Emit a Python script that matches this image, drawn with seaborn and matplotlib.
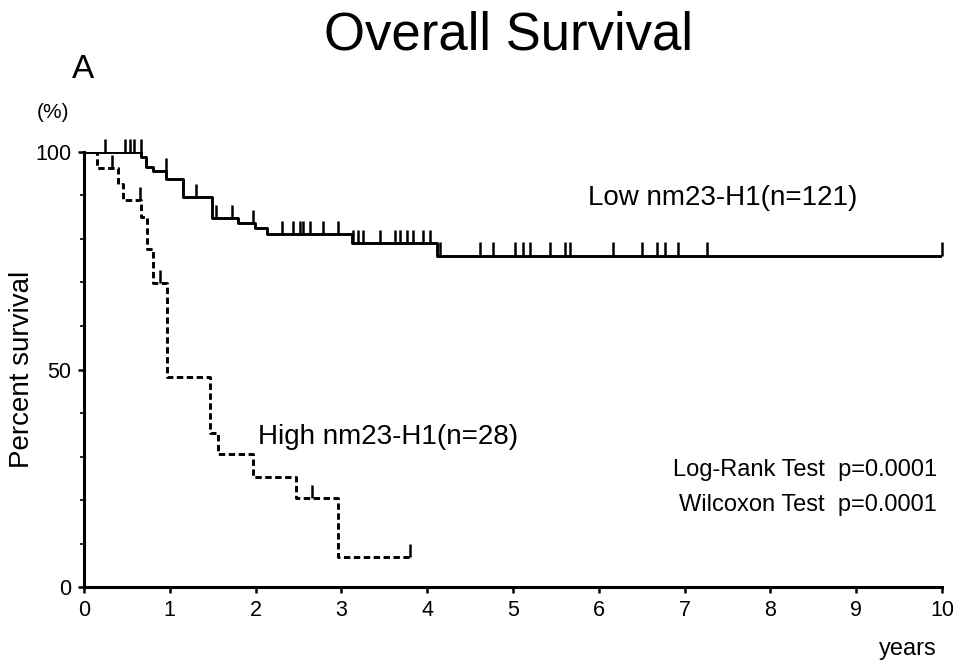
import numpy as np
import pandas as pd
import seaborn as sns
import matplotlib.pyplot as plt
from matplotlib.ticker import MultipleLocator

# Kaplan-Meier steps (years, % surviving)
low_times = [0, 0.67, 0.72, 0.81, 0.96, 1.15, 1.49, 1.80, 1.99, 2.13, 3.12, 4.11]
low_surv = [100, 98.9, 96.5, 95.6, 93.8, 89.7, 84.8, 83.7, 82.5, 81.1, 79.1, 76.2]
low_end = 10.0
low_censor = [0.25, 0.48, 0.54, 0.58, 0.66, 0.95, 1.31, 1.54, 1.72, 1.97,
              2.31, 2.44, 2.52, 2.55, 2.63, 2.79, 2.96, 3.14, 3.19, 3.25,
              3.45, 3.62, 3.68, 3.76, 3.83, 3.95, 4.03, 4.15, 4.62, 4.77,
              5.02, 5.12, 5.20, 5.43, 5.61, 5.66, 6.17, 6.50, 6.68, 6.77,
              6.92, 7.26, 10.0]

high_times = [0, 0.15, 0.40, 0.46, 0.67, 0.73, 0.81, 0.97, 1.47, 1.56, 1.97, 2.47, 2.96]
high_surv = [100, 96.4, 92.7, 89.0, 85.1, 77.7, 69.9, 48.3, 35.4, 30.6, 25.3, 20.5, 6.8]
high_end = 3.80
high_censor = [0.33, 0.65, 0.89, 2.66, 3.80]

x_ticks = list(range(0, 11))
y_ticks = [0, 50, 100]

sns.set_style("ticks")
plt.rcParams['font.family'] = ['Liberation Sans', 'DejaVu Sans']
plt.rcParams['text.color'] = 'black'
plt.rcParams['axes.labelcolor'] = 'black'
plt.rcParams['xtick.color'] = 'black'
plt.rcParams['ytick.color'] = 'black'
plt.rcParams['axes.edgecolor'] = 'black'

def curve(times, surv, end, name):
    return pd.DataFrame({'years': times + [end], 'surv': surv + [surv[-1]], 'group': name})

df = pd.concat([curve(low_times, low_surv, low_end, 'low'),
                curve(high_times, high_surv, high_end, 'high')], ignore_index=True)

fig = plt.figure(figsize=(9.54, 6.61), dpi=100)
ax = fig.add_axes([84/954, 1-587/661, 858/954, 435/661])

sns.lineplot(data=df, x='years', y='surv', hue='group', style='group',
             palette={'low': 'black', 'high': 'black'},
             dashes={'low': '', 'high': (2.2, 1.2)},
             drawstyle='steps-post', estimator=None, sort=False,
             linewidth=2.1, legend=False, ax=ax)

# censoring ticks sit on top of the curve
for times, surv, cens in [(low_times, low_surv, low_censor), (high_times, high_surv, high_censor)]:
    t = np.array(times)
    s = np.array(surv)
    lev = s[np.searchsorted(t, cens, side='right') - 1]
    ax.vlines(cens, lev, lev + 3.0, color='black', linewidth=1.8, clip_on=False)

ax.set_xlim(0, 10)
ax.set_ylim(0, 100)
ax.set_xticks(x_ticks)
ax.set_yticks(y_ticks)
ax.yaxis.set_minor_locator(MultipleLocator(10))
ax.tick_params(axis='both', which='major', direction='out', length=4, width=1.8,
               labelsize=15.5, pad=5)
ax.tick_params(axis='y', which='minor', direction='out', length=3, width=1.2)
sns.despine(ax=ax)
for sp in ['left', 'bottom']:
    ax.spines[sp].set_linewidth(2.2)

ax.set_ylabel('Percent survival', fontsize=20)
ax.yaxis.set_label_coords(-0.057, 0.5)
ax.set_xlabel('years', fontsize=17, loc='right')
ax.xaxis.set_label_coords(0.994, -0.118)

ax.text(5.87, 89.4, 'Low nm23-H1(n=121)', fontsize=20, va='center', ha='left')
ax.text(2.03, 34.5, 'High nm23-H1(n=28)', fontsize=20, va='center', ha='left')
ax.text(9.94, 26.9, 'Log-Rank Test  p=0.0001', fontsize=17, va='center', ha='right')
ax.text(9.94, 18.9, 'Wilcoxon Test  p=0.0001', fontsize=17, va='center', ha='right')

fig.text(0.533, 1-36/661, 'Overall Survival', fontsize=38, ha='center', va='center')
fig.text(72/954, 1-70/661, 'A', fontsize=24, ha='left', va='center')
fig.text(37/954, 1-112/661, '(%)', fontsize=15, ha='left', va='center')

fig.savefig('out.png', dpi=100)
